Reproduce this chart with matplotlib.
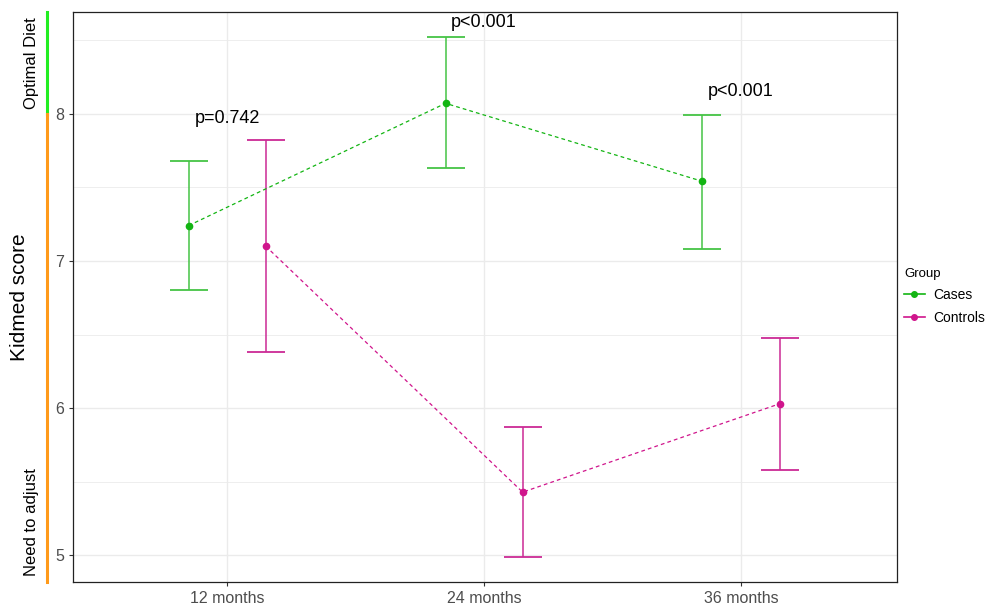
import matplotlib
matplotlib.use("Agg")
import matplotlib.pyplot as plt
import matplotlib.transforms as mtransforms
from matplotlib.lines import Line2D
import numpy as np

timepoints = ["12 months", "24 months", "36 months"]
groups = ["Cases", "Controls"]
cases_mean = [7.24, 8.07, 7.54]
cases_low = [6.80, 7.63, 7.08]
cases_high = [7.68, 8.52, 7.99]
controls_mean = [7.10, 5.43, 6.03]
controls_low = [6.38, 4.99, 5.58]
controls_high = [7.82, 5.87, 6.48]
pvalues = ["p=0.742", "p<0.001", "p<0.001"]
pvalue_y = [7.97, 8.62, 8.15]

colors = {"Cases": "#13B513", "Controls": "#D0158C"}
err_colors = {"Cases": "#45C445", "Controls": "#CB2A95"}

fig = plt.figure(figsize=(9.9, 6.09), dpi=100)
ax = fig.add_axes([73/990, 1-582/609, (897-73)/990, (582-12)/609])

x = np.arange(1, len(timepoints)+1)
dodge = 0.15
for g, means, lows, highs, off in [("Cases", cases_mean, cases_low, cases_high, -dodge),
                                    ("Controls", controls_mean, controls_low, controls_high, dodge)]:
    xs = x + off
    m = np.array(means)
    ax.errorbar(xs, m, yerr=[m - np.array(lows), np.array(highs) - m], fmt="none",
                ecolor=err_colors[g], elinewidth=1.1, capsize=13.8, capthick=1.3, zorder=3)
    ax.plot(xs, m, linestyle=(0, (3, 2.5)), color=colors[g], linewidth=0.9, zorder=4)
    ax.plot(xs, m, "o", color=colors[g], markersize=4.5, zorder=5)

for xi, p, py in zip(x, pvalues, pvalue_y):
    ax.text(xi, py, p, ha="center", va="center", fontsize=13, color="black",
            family="Liberation Sans")

ax.set_xlim(0.4, 3.607)
ax.set_ylim(4.82, 8.69)
ax.set_xticks(x)
ax.set_xticklabels(timepoints)
ax.set_yticks([5, 6, 7, 8])
ax.set_yticks([5.5, 6.5, 7.5, 8.5], minor=True)
ax.grid(True, which="major", color="#EBEBEB", linewidth=1.0, zorder=0)
ax.grid(True, which="minor", axis="y", color="#EBEBEB", linewidth=0.6, zorder=0)
ax.set_axisbelow(True)
ax.tick_params(axis="both", which="major", labelsize=11.5, labelcolor="#4D4D4D",
               color="#333333", length=3, width=0.8)
ax.tick_params(axis="y", which="minor", length=0)
for lab in ax.get_xticklabels() + ax.get_yticklabels():
    lab.set_family("Liberation Sans")
for s in ax.spines.values():
    s.set_color("#222222")
    s.set_linewidth(0.9)

# Colored indicator bar on the left
trans = mtransforms.blended_transform_factory(ax.transAxes, ax.transData)
xb = (47 - 73) / 824
ax.add_line(Line2D([xb, xb], [8.0, 8.69], transform=trans, color="#22EE22",
                   linewidth=2.2, clip_on=False))
ax.add_line(Line2D([xb, xb], [4.82, 8.0], transform=trans, color="#FF9A1A",
                   linewidth=2.2, clip_on=False))
xt = (32 - 73) / 824
ax.text(xt, 8.345, "Optimal Diet", transform=trans, rotation=90, ha="center",
        va="center", fontsize=12, family="Liberation Sans")
ax.text(xt, 5.23, "Need to adjust", transform=trans, rotation=90, ha="center",
        va="center", fontsize=12, family="Liberation Sans")
fig.text(20/990, 1-297/609, "Kidmed score", rotation=90, ha="center", va="center",
         fontsize=15, family="Liberation Sans")

handles = [Line2D([0], [0], color=colors[g], marker="o", markersize=4, linewidth=1.2)
           for g in groups]
leg = fig.legend(handles, groups, title="Group", loc="upper left",
                 bbox_to_anchor=(904/990, 1-268/609), frameon=False,
                 borderaxespad=0, borderpad=0,
                 title_fontsize=9.5, handlelength=1.5, handletextpad=0.6,
                 labelspacing=0.6, prop={"family": "Liberation Sans", "size": 10})
leg._legend_box.align = "left"
leg.get_title().set_family("Liberation Sans")

fig.savefig("out.png", dpi=100)
